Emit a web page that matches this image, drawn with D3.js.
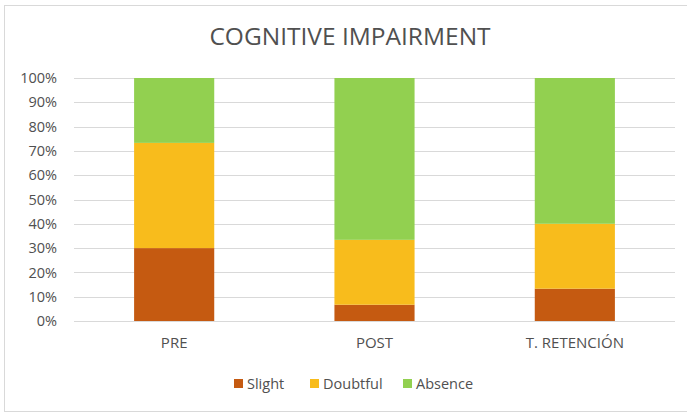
<!DOCTYPE html>
<html>
<head>
<meta charset="utf-8">
<script src="https://cdn.jsdelivr.net/npm/d3@7"></script>
<style>
  html, body { margin: 0; padding: 0; background: #fff; }
  svg text { font-family: "Open Sans", "Noto Sans", sans-serif; }
</style>
</head>
<body>
<svg id="chart" width="687" height="413"></svg>
<script>
// Stacked percentage shares per assessment moment
const categories = ["PRE", "POST", "T. RETENCIÓN"];
const seriesNames = ["Slight", "Doubtful", "Absence"];
const slight   = [30.0, 6.7, 13.3];
const doubtful = [43.3, 26.7, 26.7];
const absence  = [26.7, 66.6, 60.0];
const yTicks = [0, 10, 20, 30, 40, 50, 60, 70, 80, 90, 100];
const colors = ["#c55a11", "#f8bc1c", "#92d050"];

const svg = d3.select("#chart");
const W = 687, H = 413;
const plot = { left: 74, right: 675, top: 78, bottom: 321 };
const textColor = "#505050";

// outer chart frame
svg.append("rect")
  .attr("x", 4.5).attr("y", 5.5)
  .attr("width", W).attr("height", H - 7)
  .attr("fill", "#fff").attr("stroke", "#d9d9d9");

const x = d3.scaleBand()
  .domain(categories)
  .range([plot.left, plot.right])
  .paddingInner(0.6)
  .paddingOuter(0.3);

const y = d3.scaleLinear()
  .domain([0, 100])
  .range([plot.bottom, plot.top]);

// gridlines
svg.append("g")
  .selectAll("line")
  .data(yTicks)
  .join("line")
  .attr("x1", plot.left).attr("x2", plot.right)
  .attr("y1", d => Math.round(y(d)) + 0.5)
  .attr("y2", d => Math.round(y(d)) + 0.5)
  .attr("stroke", "#d9d9d9")
  .attr("stroke-width", 1);

// y axis labels
const yAxis = d3.axisLeft(y)
  .tickValues(yTicks)
  .tickFormat(d => d + "%")
  .tickSize(0)
  .tickPadding(0);
const gy = svg.append("g")
  .attr("transform", `translate(${plot.left - 17},0)`)
  .call(yAxis);
gy.select(".domain").remove();
gy.selectAll("text")
  .attr("fill", textColor)
  .style("font-size", "14.5px");

// stacked bars
const rows = categories.map((c, i) => ({
  category: c, Slight: slight[i], Doubtful: doubtful[i], Absence: absence[i]
}));
const stack = d3.stack().keys(seriesNames)(rows);

svg.append("g")
  .selectAll("g")
  .data(stack)
  .join("g")
  .attr("fill", (d, i) => colors[i])
  .selectAll("rect")
  .data(d => d)
  .join("rect")
  .attr("x", d => x(d.data.category))
  .attr("width", x.bandwidth())
  .attr("y", d => y(d[1]))
  .attr("height", d => y(d[0]) - y(d[1]));

// x axis labels
const xAxis = d3.axisBottom(x).tickSize(0).tickPadding(0);
const gx = svg.append("g")
  .attr("transform", `translate(0,${plot.bottom + 16})`)
  .call(xAxis);
gx.select(".domain").remove();
gx.selectAll("text")
  .attr("fill", textColor)
  .style("font-size", "15px");

// title
svg.append("text")
  .attr("x", 350)
  .attr("y", 45)
  .attr("text-anchor", "middle")
  .attr("fill", textColor)
  .style("font-size", "24.5px")
  .text("COGNITIVE IMPAIRMENT");

// legend
const legendX = [234, 310, 403];
const legend = svg.append("g");
seriesNames.forEach((name, i) => {
  legend.append("rect")
    .attr("x", legendX[i]).attr("y", 379)
    .attr("width", 9).attr("height", 9)
    .attr("fill", colors[i]);
  legend.append("text")
    .attr("x", legendX[i] + 13)
    .attr("y", 389)
    .attr("fill", textColor)
    .style("font-size", "14.5px")
    .text(name);
});
</script>
</body>
</html>
